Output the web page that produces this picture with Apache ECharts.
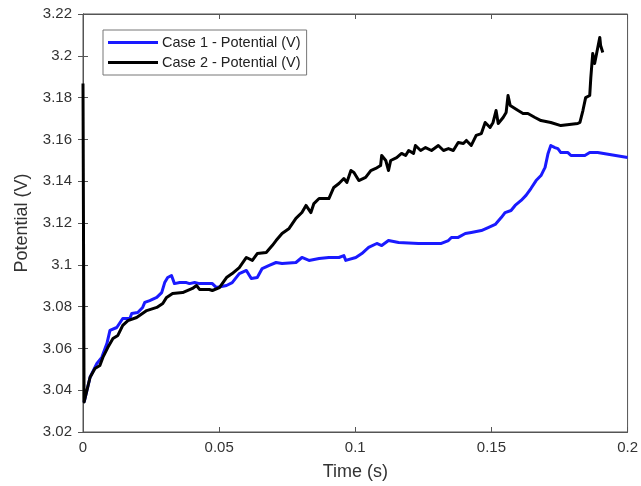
<!DOCTYPE html>
<html>
<head>
<meta charset="utf-8">
<script src="https://cdn.jsdelivr.net/npm/echarts@6/dist/echarts.min.js"></script>
<style>html,body{margin:0;padding:0;background:#fff}#c{width:641px;height:486px}</style>
</head>
<body>
<div id="c"></div>
<script>
var seriesNames = ['Case 1 - Potential (V)', 'Case 2 - Potential (V)'];
var xTicks = [0, 0.05, 0.1, 0.15, 0.2];
var yTicks = [3.02, 3.04, 3.06, 3.08, 3.1, 3.12, 3.14, 3.16, 3.18, 3.2, 3.22];

var case1Time = [0.0004,0.0026,0.0051,0.0069,0.0088,0.0099,0.0124,0.0146,0.0172,0.0179,0.0201,0.0219,0.0227,0.0245,0.0271,0.0289,0.0300,0.0311,0.0325,0.0336,0.0355,0.0380,0.0391,0.0410,0.0428,0.0464,0.0475,0.0490,0.0527,0.0548,0.0574,0.0600,0.0618,0.0640,0.0658,0.0684,0.0709,0.0731,0.0782,0.0804,0.0830,0.0867,0.0903,0.0940,0.0958,0.0965,0.1002,0.1024,0.1049,0.1079,0.1097,0.1122,0.1159,0.1232,0.1316,0.1342,0.1353,0.1378,0.1404,0.1426,0.1463,0.1488,0.1514,0.1536,0.1550,0.1572,0.1587,0.1609,0.1627,0.1645,0.1664,0.1682,0.1697,0.1708,0.1718,0.1733,0.1744,0.1755,0.1781,0.1792,0.1843,0.1861,0.1890,0.2];
var case1Value = [3.0343,3.0462,3.0528,3.0557,3.0624,3.0686,3.0700,3.0743,3.0743,3.0767,3.0772,3.0796,3.0820,3.0829,3.0844,3.0867,3.0915,3.0939,3.0949,3.0910,3.0915,3.0915,3.0910,3.0915,3.0910,3.0910,3.0910,3.0891,3.0901,3.0915,3.0958,3.0973,3.0934,3.0939,3.0982,3.0997,3.1011,3.1006,3.1011,3.1035,3.1021,3.1030,3.1035,3.1035,3.1044,3.1021,3.1035,3.1054,3.1083,3.1102,3.1092,3.1116,3.1107,3.1102,3.1102,3.1116,3.1131,3.1131,3.1150,3.1155,3.1164,3.1178,3.1193,3.1226,3.1250,3.1260,3.1284,3.1308,3.1332,3.1365,3.1403,3.1427,3.1466,3.1533,3.1571,3.1561,3.1556,3.1537,3.1537,3.1523,3.1523,3.1537,3.1537,3.1513];

var case2Time = [0,0.0004,0.0026,0.0044,0.0062,0.0073,0.0091,0.0110,0.0128,0.0146,0.0165,0.0197,0.0234,0.0271,0.0293,0.0307,0.0329,0.0366,0.0402,0.0417,0.0428,0.0464,0.0475,0.0501,0.0527,0.0548,0.0574,0.0600,0.0622,0.0640,0.0673,0.0695,0.0709,0.0731,0.0757,0.0782,0.0804,0.0819,0.0837,0.0848,0.0867,0.0903,0.0921,0.0940,0.0958,0.0969,0.0984,0.0995,0.1013,0.1038,0.1057,0.1075,0.1093,0.1097,0.1112,0.1122,0.1130,0.1152,0.1170,0.1185,0.1196,0.1214,0.1221,0.1240,0.1258,0.1280,0.1305,0.1324,0.1342,0.1360,0.1378,0.1397,0.1408,0.1426,0.1444,0.1463,0.1477,0.1495,0.1506,0.1517,0.1525,0.1543,0.1554,0.1561,0.1569,0.1598,0.1616,0.1634,0.1660,0.1682,0.1718,0.1755,0.1817,0.1825,0.1836,0.1846,0.1861,0.1865,0.1872,0.1879,0.1887,0.1898,0.1901,0.1909];
var case2Value = [3.1867,3.0343,3.0462,3.0504,3.0518,3.0557,3.0604,3.0647,3.0662,3.0710,3.0733,3.0748,3.0781,3.0796,3.0815,3.0844,3.0863,3.0867,3.0887,3.0901,3.0882,3.0882,3.0877,3.0891,3.0939,3.0958,3.0987,3.1035,3.1021,3.1054,3.1059,3.1092,3.1116,3.1150,3.1174,3.1222,3.1250,3.1284,3.1250,3.1293,3.1317,3.1317,3.1370,3.1389,3.1413,3.1394,3.1451,3.1442,3.1403,3.1418,3.1451,3.1461,3.1475,3.1523,3.1499,3.1451,3.1499,3.1513,3.1533,3.1523,3.1547,3.1533,3.1571,3.1547,3.1561,3.1547,3.1571,3.1547,3.1556,3.1547,3.1585,3.1580,3.1595,3.1571,3.1619,3.1628,3.1681,3.1657,3.1681,3.1738,3.1676,3.1705,3.1729,3.1810,3.1762,3.1738,3.1724,3.1724,3.1705,3.1690,3.1681,3.1666,3.1676,3.1681,3.1738,3.1800,3.1810,3.1896,3.2011,3.1963,3.2016,3.2088,3.2049,3.2016];

function zip(a, b) { return a.map(function (v, i) { return [v, b[i]]; }); }

var font = 'Liberation Sans, Arial, sans-serif';
var axisColor = '#555';
var labelColor = '#333';

function fmtNum(v) { return String(parseFloat(v.toFixed(4))); }

var chart = echarts.init(document.getElementById('c'), null, { renderer: 'canvas' });
chart.setOption({
  animation: false,
  backgroundColor: '#fff',
  grid: { left: 83, right: 11, top: 14, bottom: 54, show: true, borderColor: axisColor, borderWidth: 1, containLabel: false },
  legend: {
    left: 103, top: 30,
    orient: 'vertical',
    itemGap: 5,
    itemWidth: 50, itemHeight: 3,
    icon: 'rect',
    padding: [5, 6, 5, 5],
    borderColor: '#777', borderWidth: 1,
    backgroundColor: '#fff',
    textStyle: { fontFamily: font, fontSize: 14.5, color: '#222', padding: [0, 0, 0, -1] },
    data: seriesNames
  },
  xAxis: [{
    type: 'value', min: xTicks[0], max: xTicks[xTicks.length - 1], interval: 0.05,
    name: 'Time (s)', nameLocation: 'middle', nameGap: 31,
    nameTextStyle: { fontFamily: font, fontSize: 18, color: labelColor },
    axisLine: { show: true, lineStyle: { color: axisColor } },
    axisTick: { show: true, inside: true, length: 5, lineStyle: { color: axisColor } },
    axisLabel: { fontFamily: font, fontSize: 15, color: labelColor, margin: 8, formatter: fmtNum },
    splitLine: { show: false }
  }, {
    type: 'value', position: 'top', min: xTicks[0], max: xTicks[xTicks.length - 1], interval: 0.05,
    axisLine: { show: true, lineStyle: { color: axisColor } },
    axisTick: { show: true, inside: true, length: 5, lineStyle: { color: axisColor } },
    axisLabel: { show: false }, splitLine: { show: false }
  }],
  yAxis: [{
    type: 'value', min: yTicks[0], max: yTicks[yTicks.length - 1], interval: 0.02,
    name: 'Potential (V)', nameLocation: 'middle', nameGap: 52, nameRotate: 90,
    nameTextStyle: { fontFamily: font, fontSize: 18, color: labelColor },
    axisLine: { show: true, lineStyle: { color: axisColor } },
    axisTick: { show: true, inside: true, length: 5, lineStyle: { color: axisColor } },
    axisLabel: { fontFamily: font, fontSize: 15, color: labelColor, margin: 11, formatter: fmtNum },
    splitLine: { show: false }
  }, {
    type: 'value', position: 'right', min: yTicks[0], max: yTicks[yTicks.length - 1], interval: 0.02,
    axisLine: { show: true, lineStyle: { color: axisColor } },
    axisTick: { show: true, inside: true, length: 5, lineStyle: { color: axisColor } },
    axisLabel: { show: false }, splitLine: { show: false }
  }],
  series: [{
    name: seriesNames[0], type: 'line', showSymbol: false, symbol: 'none',
    data: zip(case1Time, case1Value),
    itemStyle: { color: '#1a1aff' },
    lineStyle: { color: '#1a1aff', width: 3, join: 'round' }
  }, {
    name: seriesNames[1], type: 'line', showSymbol: false, symbol: 'none',
    data: zip(case2Time, case2Value),
    itemStyle: { color: '#000' },
    lineStyle: { color: '#000', width: 3, join: 'round' }
  }]
});
</script>
</body>
</html>
